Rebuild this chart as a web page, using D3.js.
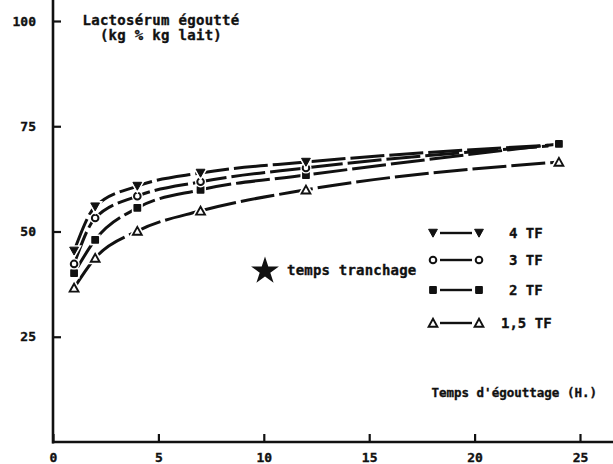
<!DOCTYPE html>
<html>
<head>
<meta charset="utf-8">
<script src="https://cdn.jsdelivr.net/npm/d3@7"></script>
<style>
  html, body { margin: 0; padding: 0; background: #fff; }
  svg { display: block; }
  text { font-family: "DejaVu Sans Mono", monospace; font-weight: bold; fill: #111; stroke: #111; stroke-width: 0.35px; }
</style>
</head>
<body>
<svg id="chart" width="613" height="464"></svg>
<script>
// Draining time (hours)
const hours = [1, 2, 4, 7, 12, 24];

// Whey drained (kg per 100 kg milk) for each coagulation multiple (TF)
const tf4  = [45.4, 55.9, 60.8, 63.9, 66.5, 70.5];
const tf3  = [42.3, 53.2, 58.4, 61.8, 65.1, 70.3];
const tf2  = [40.1, 48.0, 55.6, 59.9, 63.4, 70.8];
const tf15 = [36.6, 43.7, 50.1, 54.9, 59.9, 66.5];

const seriesNames = ["4 TF", "3 TF", "2 TF", "1,5 TF"];
const seriesMarkers = ["triDown", "circle", "square", "triUp"];
// last point of the 4 TF and 3 TF curves carries no symbol
const seriesLastMarked = [false, false, true, true];

const xTicks = [0, 5, 10, 15, 20, 25];
const yTicks = [25, 50, 75, 100];

const yTitle = ["Lactosérum égoutté", "(kg % kg lait)"];
const xTitle = "Temps d'égouttage (H.)";
const starLabel = "temps tranchage";

const series = [tf4, tf3, tf2, tf15].map((vals, i) => ({
  name: seriesNames[i],
  marker: seriesMarkers[i],
  lastMarked: seriesLastMarked[i],
  points: hours.map((h, j) => ({ h, v: vals[j] }))
}));

const svg = d3.select("#chart");
const ink = "#111";

const x = d3.scaleLinear().domain([0, 25]).range([53, 580]);
const y = d3.scaleLinear().domain([0, 100]).range([442, 21]);

// Axes: ticks point into the plot
const gx = svg.append("g").attr("transform", `translate(0,${y(0)})`)
  .call(d3.axisBottom(x).tickValues(xTicks).tickSize(-8).tickPadding(11).tickFormat(d3.format("d")));
gx.select(".domain").remove();
gx.selectAll("line").attr("stroke", ink).attr("stroke-width", 2.2);
gx.selectAll("text").attr("font-size", 13).attr("font-family", null).attr("fill", ink);

const gy = svg.append("g").attr("transform", `translate(${x(0)},0)`)
  .call(d3.axisLeft(y).tickValues(yTicks).tickSize(-8).tickPadding(17).tickFormat(d3.format("d")));
gy.select(".domain").remove();
gy.selectAll("line").attr("stroke", ink).attr("stroke-width", 2.2);
gy.selectAll("text").attr("font-size", 13).attr("font-family", null).attr("fill", ink);

// Axis lines run past the last ticks
svg.append("line").attr("x1", x(0)).attr("x2", x(0)).attr("y1", 0).attr("y2", y(0) + 1.5)
  .attr("stroke", ink).attr("stroke-width", 2.6);
svg.append("line").attr("x1", x(0) - 1).attr("x2", 613).attr("y1", y(0)).attr("y2", y(0))
  .attr("stroke", ink).attr("stroke-width", 2.6);

// Curves
const line = d3.line().x(d => x(d.h)).y(d => y(d.v)).curve(d3.curveMonotoneX);
svg.append("g").selectAll("path").data(series).join("path")
  .attr("d", d => line(d.lastMarked ? d.points : d.points.slice(0, -1).concat([{ h: 23.5, v: d.points[d.points.length - 1].v }])))
  .attr("fill", "none").attr("stroke", ink).attr("stroke-width", 3)
  .attr("stroke-dasharray", "34,5").attr("stroke-linecap", "butt");

// Symbols
function drawMarker(g, type, cx, cy) {
  const s = 4.4;
  if (type === "triDown") {
    const p = `M${cx - s},${cy - s * 0.85}L${cx + s},${cy - s * 0.85}L${cx},${cy + s * 0.95}Z`;
    g.append("path").attr("d", p).attr("fill", "#fff").attr("stroke", "#fff").attr("stroke-width", 4);
    g.append("path").attr("d", p).attr("fill", ink).attr("stroke", ink).attr("stroke-width", 1);
  } else if (type === "triUp") {
    const p = `M${cx - s},${cy + s * 0.85}L${cx + s},${cy + s * 0.85}L${cx},${cy - s * 0.95}Z`;
    g.append("path").attr("d", p).attr("fill", "#fff").attr("stroke", "#fff").attr("stroke-width", 5);
    g.append("path").attr("d", p).attr("fill", "#fff").attr("stroke", ink).attr("stroke-width", 1.9);
  } else if (type === "circle") {
    g.append("circle").attr("cx", cx).attr("cy", cy).attr("r", 3.6).attr("fill", "#fff").attr("stroke", "#fff").attr("stroke-width", 4);
    g.append("circle").attr("cx", cx).attr("cy", cy).attr("r", 3.3).attr("fill", "#fff").attr("stroke", ink).attr("stroke-width", 2);
  } else if (type === "square") {
    g.append("rect").attr("x", cx - 4).attr("y", cy - 4).attr("width", 8).attr("height", 8)
      .attr("fill", "#fff").attr("stroke", "#fff").attr("stroke-width", 3);
    g.append("rect").attr("x", cx - 3.9).attr("y", cy - 3.9).attr("width", 7.8).attr("height", 7.8)
      .attr("fill", ink).attr("rx", 0.8);
  }
}

const gm = svg.append("g");
// draw lower series first so upper symbols sit on top
series.slice().reverse().forEach(s => {
  const pts = s.lastMarked ? s.points : s.points.slice(0, -1);
  pts.forEach(p => drawMarker(gm, s.marker, x(p.h), y(p.v)));
});

// Y title
const gt = svg.append("g");
gt.append("text").attr("x", 161).attr("y", 25).attr("text-anchor", "middle")
  .attr("font-size", 14).attr("letter-spacing", 0.3).text(yTitle[0]);
gt.append("text").attr("x", 161).attr("y", 40).attr("text-anchor", "middle")
  .attr("font-size", 14).attr("letter-spacing", 0.3).text(yTitle[1]);

// X title
svg.append("text").attr("x", 597).attr("y", 397).attr("text-anchor", "end")
  .attr("font-size", 12.5).text(xTitle);

// Star note
const star = d3.symbol().type(d3.symbolStar).size(240);
svg.append("path").attr("d", star()).attr("transform", "translate(265,271)").attr("fill", ink);
svg.append("text").attr("x", 287).attr("y", 275).attr("font-size", 14).attr("letter-spacing", 0.2).text(starLabel);

// Legend
const legendY = [233, 260, 290, 323];
const lg = svg.append("g");
series.forEach((s, i) => {
  const ly = legendY[i];
  lg.append("line").attr("x1", 440).attr("x2", 472).attr("y1", ly).attr("y2", ly)
    .attr("stroke", ink).attr("stroke-width", 2.4);
  drawMarker(lg, s.marker, 433, ly);
  drawMarker(lg, s.marker, 479, ly);
  lg.append("text").attr("x", i === 3 ? 501 : 509).attr("y", ly + 5).attr("font-size", 14).text(s.name);
});
</script>
</body>
</html>
